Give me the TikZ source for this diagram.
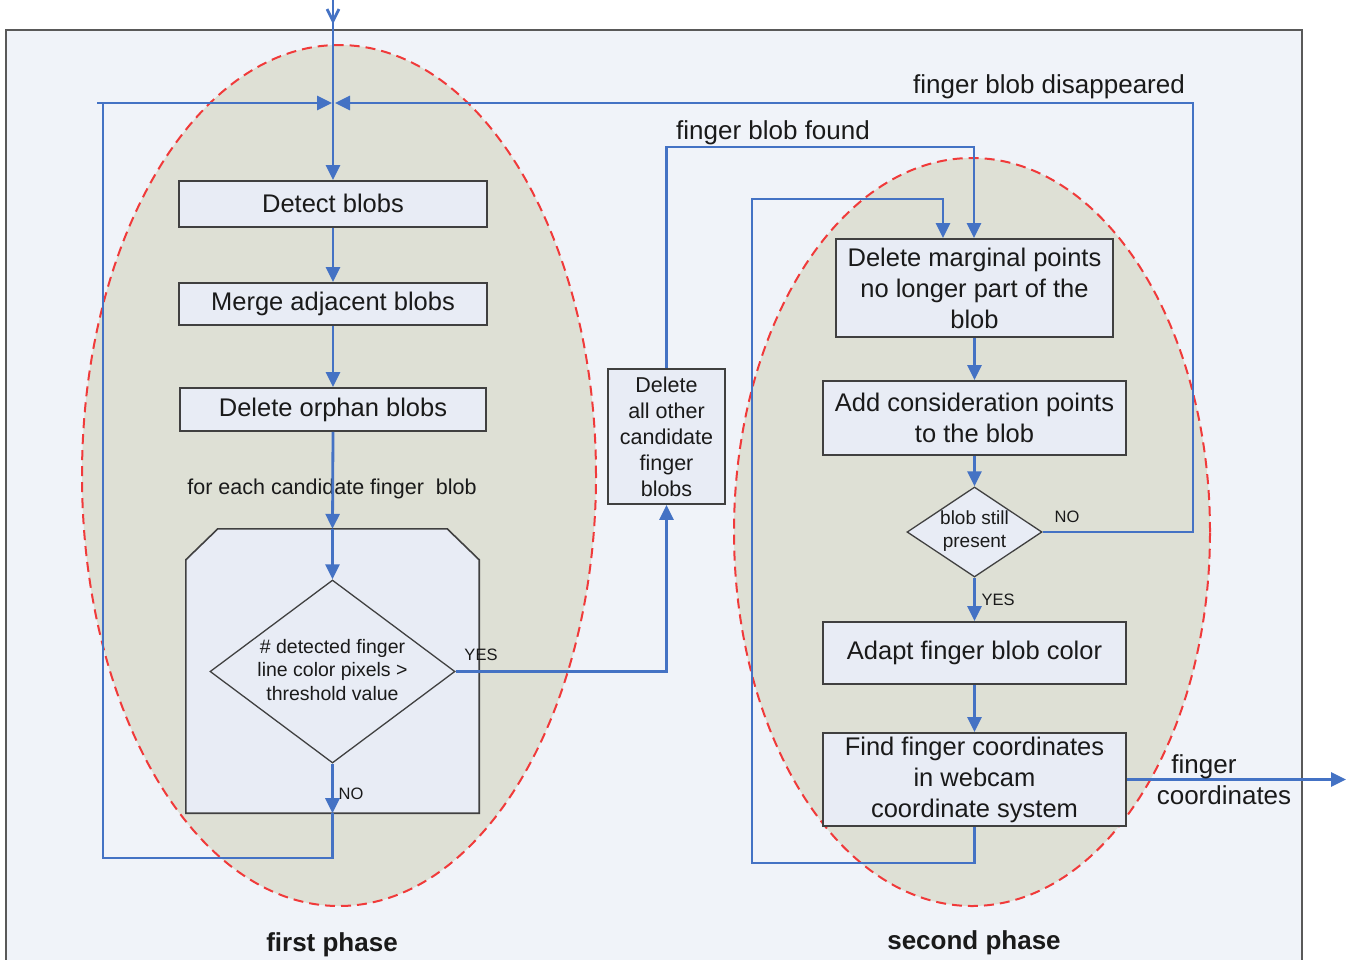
\documentclass[tikz,border=0pt]{standalone}
\usepackage{fontspec}
\setmainfont{Liberation Sans}
\usetikzlibrary{arrows.meta,shapes.geometric}
\definecolor{bgc}{HTML}{F0F3F9}
\definecolor{ellc}{HTML}{DEE0D5}
\definecolor{boxc}{HTML}{E8ECF5}
\definecolor{linec}{HTML}{4472C4}
\definecolor{bordc}{HTML}{404040}
\definecolor{redc}{HTML}{F03A3A}
\definecolor{txtc}{HTML}{1A1A1A}
\tikzset{
  stepbox/.style={draw=bordc, line width=1.8pt, fill=boxc, align=center, inner sep=0pt,
    text=txtc, font=\fontsize{25.5}{31}\selectfont},
  smallbox/.style={stepbox, font=\fontsize{21.5}{26}\selectfont},
  dia/.style={diamond, draw=bordc, line width=1.3pt, fill=boxc, inner sep=0pt},
  diatext/.style={align=center, text=txtc, inner sep=0pt},
  conn/.style={draw=linec, line width=2.8pt, -{Triangle[length=15pt,width=14pt]}},
  plain/.style={draw=linec, line width=2.8pt},
  phase/.style={ellipse, draw=redc, fill=ellc, line width=2pt, dash pattern=on 10pt off 6pt, inner sep=0pt},
  lbl/.style={text=txtc, inner sep=0pt, font=\fontsize{26}{31}\selectfont},
  yn/.style={text=txtc, inner sep=0pt, font=\fontsize{16.5}{20}\selectfont},
}
\begin{document}
\begin{tikzpicture}[x=1pt, y=-1pt]
\useasboundingbox (0,0) rectangle (1354,959);
% frame
\draw[draw=gray!70!black, line width=1.6pt, fill=bgc] (6,30) rectangle (1302,1000);
% phases
\node[phase, minimum width=514, minimum height=861] (ph1) at (339,475.5) {};
\node[phase, minimum width=476, minimum height=748] (ph2) at (972,532) {};
% first phase boxes
\node[stepbox, minimum width=308, minimum height=46] (detect) at (333,204) {\raisebox{2pt}{Detect blobs}};
\node[stepbox, minimum width=308, minimum height=42] (merge) at (333,304) {Merge adjacent blobs};
\node[stepbox, minimum width=306, minimum height=43] (orphan) at (333,409.5) {Delete orphan blobs};
\node[text=txtc, inner sep=0pt, font=\fontsize{21.5}{26}\selectfont] (foreach) at (332,489) {for each candidate finger\ \ blob};
\node[minimum width=293, minimum height=284, inner sep=0pt] (oct) at (332.5,671) {};
\draw[draw=bordc, line width=1.6pt, fill=boxc]
  ([xshift=32pt]oct.north west) -- ([xshift=-32pt]oct.north east) -- ([yshift=-31pt]oct.north east)
  -- (oct.south east) -- (oct.south west) -- ([yshift=-31pt]oct.north west) -- cycle;
\node[dia, minimum width=245, minimum height=183] (d1) at (332.5,671.5) {};
\node[diatext, font=\fontsize{19.5}{23.5}\selectfont] (d1t) at (332.5,670) {\# detected finger\\line color pixels >\\threshold value};
% middle box
\node[smallbox, minimum width=117, minimum height=135] (mid) at (666.5,436.5) {Delete\\all other\\candidate\\finger\\blobs};
% second phase boxes
\node[stepbox, minimum width=277, minimum height=98] (del) at (974.5,288) {Delete marginal points\\no longer part of the\\blob};
\node[stepbox, minimum width=303, minimum height=74] (add) at (974.5,418) {Add consideration points\\to the blob};
\node[dia, minimum width=135, minimum height=90] (d2) at (974.5,532) {};
\node[diatext, font=\fontsize{19}{23.5}\selectfont] (d2t) at (974.5,531) {blob still\\present};
\node[stepbox, minimum width=303, minimum height=62] (adapt) at (974.5,653) {Adapt finger blob color};
\node[stepbox, minimum width=303, minimum height=93] (find) at (974.5,779.5) {Find finger coordinates\\in webcam\\coordinate system};
% coordinates
\coordinate (top) at (333,0);
\coordinate (jnW) at (332,103);
\coordinate (jnE) at (335,103);
\coordinate (nl0) at (97,103);
\coordinate (nl1) at (103,858);
\coordinate (nl2) at (103,103);
\coordinate (nr) at (1193,103);
\coordinate (fbc) at (974,147);
\coordinate (rl1) at (752,863);
\coordinate (rl2) at (943,199);
\coordinate (outc) at (1346,779.5);
% connectors
\draw[conn] (top) -- (detect.north);
\draw[plain] (327,9) -- (333,21) -- (339,9);
\draw[conn] (detect.south) -- (merge.north);
\draw[conn] (merge.south) -- (orphan.north);
\draw[conn] (orphan.south) -- (oct.north);
\draw[conn] (oct.north) -- (d1.north);
\draw[conn] (d1.south) -- (oct.south);
\draw[plain] (oct.south) |- (nl1) -- (nl2);
\draw[conn] (nl0) -- (jnW);
\draw[conn] (d2.east) -| (nr) -- (jnE);
\draw[conn] (d1.east) -| (mid.south);
\draw[conn] (mid.north) |- (fbc) -- (fbc |- del.north);
\draw[conn] (del.south) -- (add.north);
\draw[conn] (add.south) -- (d2.north);
\draw[conn] (d2.south) -- (adapt.north);
\draw[conn] (adapt.south) -- (find.north);
\draw[conn] (find.south) |- (rl1) |- (rl2) -- (rl2 |- del.north);
\draw[conn] (find.east) -- (outc);
% labels
\node[yn] (yes1) at (481,655) {YES};
\node[yn] (no1) at (351,794) {NO};
\node[yn] (no2) at (1067,517) {NO};
\node[yn] (yes2) at (998,600) {YES};
\node[lbl] (found) at (773,133) {finger blob found};
\node[lbl] (disap) at (1049,87) {finger blob disappeared};
\node[lbl, align=center] (fc) at (1224,780) {\hspace*{-40pt}finger\\coordinates};
\node[lbl, font=\bfseries\fontsize{26}{31}\selectfont] (p1) at (332,945) {first phase};
\node[lbl, font=\bfseries\fontsize{26}{31}\selectfont] (p2) at (974,943) {second phase};
\end{tikzpicture}
\end{document}
